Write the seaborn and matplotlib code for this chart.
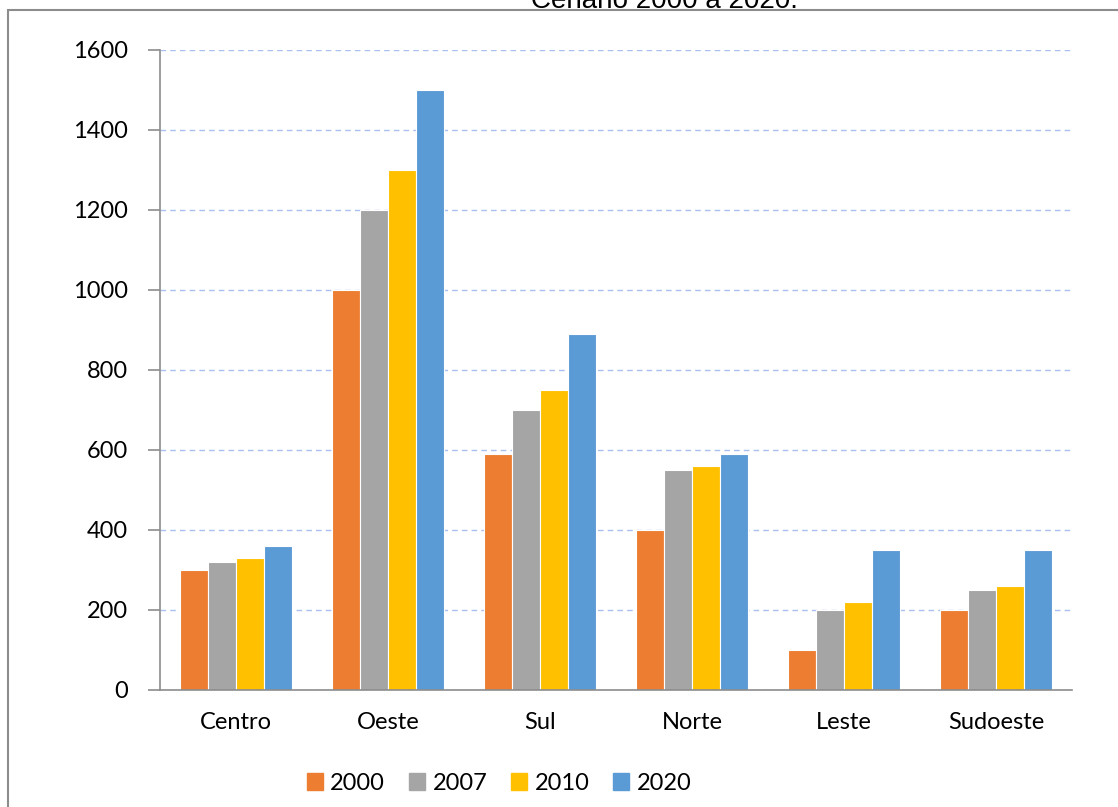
import pandas as pd
import seaborn as sns
import matplotlib.pyplot as plt
from matplotlib.patches import Rectangle

# Data
regioes = ["Centro", "Oeste", "Sul", "Norte", "Leste", "Sudoeste"]
anos = ["2000", "2007", "2010", "2020"]
v2000 = [300, 1000, 590, 400, 100, 200]
v2007 = [320, 1200, 700, 550, 200, 250]
v2010 = [330, 1300, 750, 560, 220, 260]
v2020 = [360, 1500, 890, 590, 350, 350]
cores = ["#ed7d31", "#a5a5a5", "#ffc000", "#5b9bd5"]

df = pd.DataFrame({"Regiao": regioes, "2000": v2000, "2007": v2007,
                   "2010": v2010, "2020": v2020})
df = df.melt(id_vars="Regiao", var_name="Ano", value_name="Valor")

sns.set_style("white")
plt.rcParams['font.family'] = ['Lato', 'DejaVu Sans']
plt.rcParams['text.color'] = 'black'
plt.rcParams['xtick.labelcolor'] = 'black'
plt.rcParams['ytick.labelcolor'] = 'black'

fig = plt.figure(figsize=(11.18, 8.07), dpi=100)
ax = fig.add_axes([160 / 1118, 1 - 690 / 807, 912 / 1118, 640 / 807])

sns.barplot(data=df, x="Regiao", y="Valor", hue="Ano", hue_order=anos,
            palette=cores, width=0.74, saturation=1, edgecolor="white",
            linewidth=0.8, ax=ax, legend=False)

ax.set_ylim(0, 1600)
ax.set_xlim(-0.5, 5.5)
ax.set_yticks(range(0, 1601, 200))
ax.yaxis.grid(True, color="#a9bff0", linestyle=(0, (4, 3)), linewidth=1)
ax.set_axisbelow(True)
ax.set_xlabel("")
ax.set_ylabel("")

for s in ["top", "right"]:
    ax.spines[s].set_visible(False)
for s in ["left", "bottom"]:
    ax.spines[s].set_color("#8c8c8c")
    ax.spines[s].set_linewidth(1.2)

# category labels at centers, tick marks at the boundaries
ax.set_xticks(range(len(regioes)))
ax.set_xticklabels(regioes, fontsize=17)
ax.tick_params(axis="x", length=0, pad=16)
ax.set_xticks([i - 0.5 for i in range(len(regioes) + 1)], minor=True)
ax.tick_params(axis="x", which="minor", length=9, color="#8c8c8c", width=1.2)
ax.tick_params(axis="y", left=True, length=9, color="#8c8c8c", width=1.2,
               labelsize=17, pad=14)

# outer chart border (cropped) and title cut by the top edge
fig.patches.append(Rectangle((8 / 1118, -0.1), 1.2, 1 - 10 / 807 + 0.1,
                             transform=fig.transFigure, fill=False,
                             edgecolor="#8c8c8c", linewidth=1.5))
fig.text(664 / 1118, 1 - 1 / 807, "Cenário 2000 a 2020.", ha="center",
         va="center", fontsize=20, family="Liberation Sans")

handles = [Rectangle((0, 0), 1, 1, color=c) for c in cores]
fig.legend(handles, anos, loc="center", bbox_to_anchor=(499 / 1118, 1 - 783 / 807),
           ncol=4, frameon=False, fontsize=17, handlelength=0.7,
           handleheight=0.7, handletextpad=0.3, columnspacing=1.0)

plt.savefig("out.png", dpi=100)
